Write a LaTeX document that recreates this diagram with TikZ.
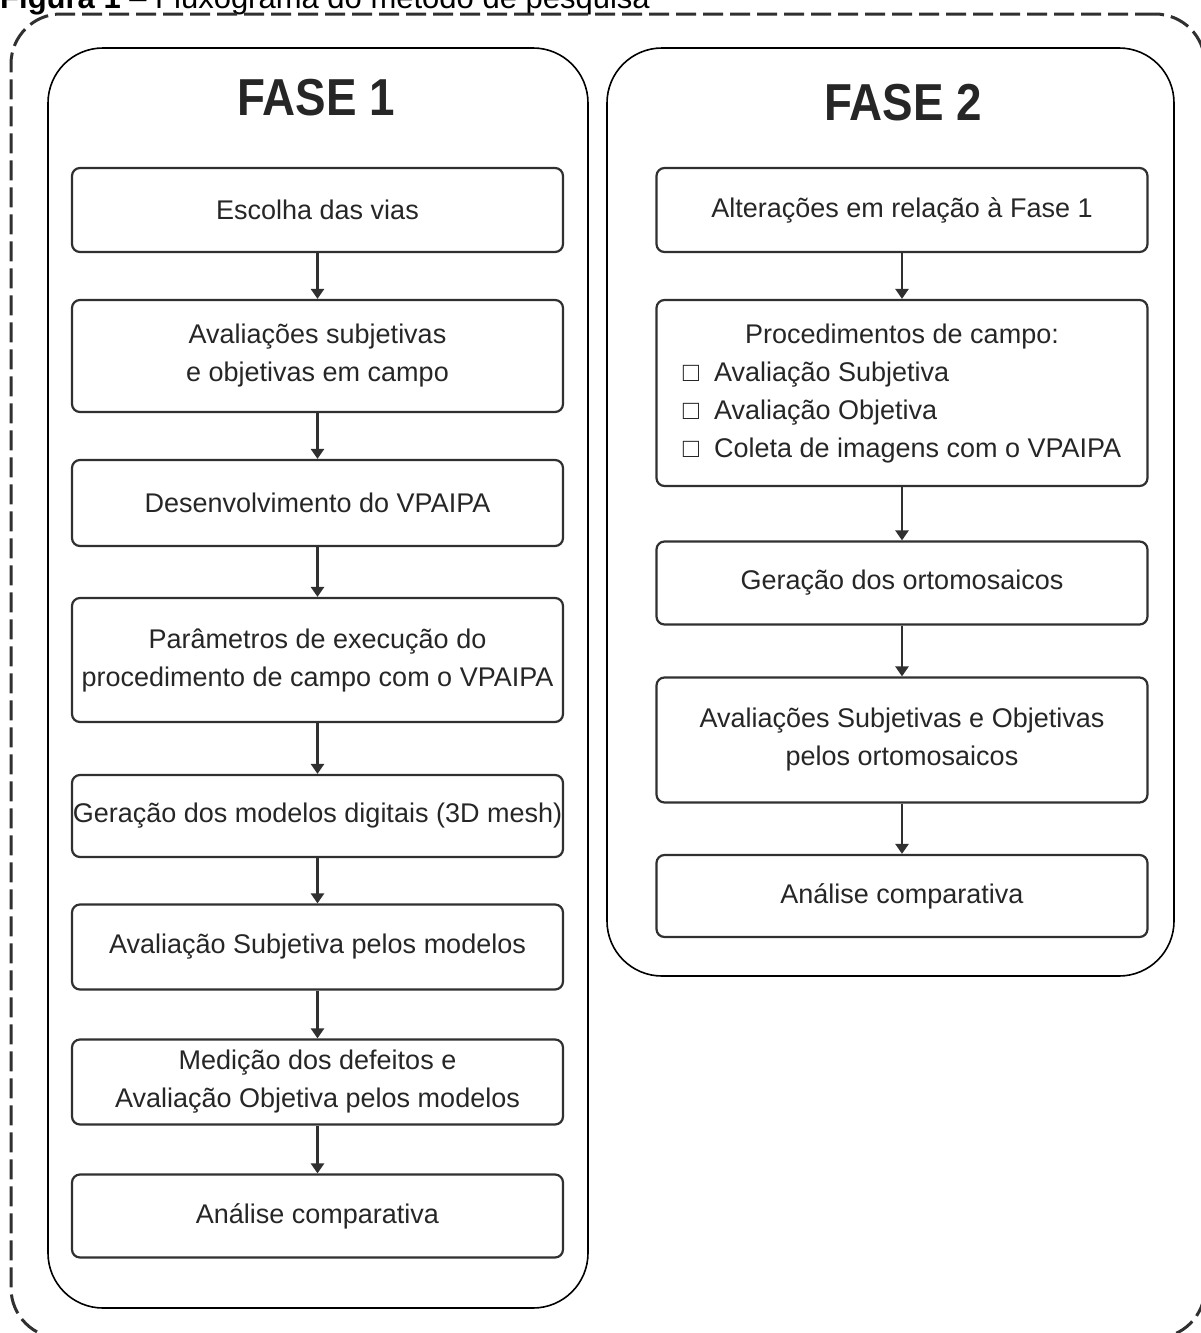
\documentclass[tikz,border=0pt]{standalone}
\usepackage{fontspec}
\setmainfont{Liberation Sans}
\usepackage{graphicx}
\usetikzlibrary{arrows.meta}
\definecolor{ink}{HTML}{262626}
\definecolor{edge}{HTML}{303030}
\tikzset{
  framebox/.style={draw=edge, line width=3pt, dash pattern=on 20pt off 7pt, rounded corners=50pt, inner sep=0pt},
  phasebox/.style={draw=black, line width=1.6pt, rounded corners=55pt, inner sep=0pt},
  stepbox/.style={draw=edge, line width=2.2pt, rounded corners=8pt, minimum width=491pt, inner sep=0pt, align=center,
     text=ink, font=\fontsize{27}{38}\selectfont},
  phasetitle/.style={text=ink, font=\fontsize{52}{56}\selectfont\bfseries, inner sep=0pt},
  arr/.style={draw=edge, line width=2.6pt, -{Triangle[width=13pt,length=10pt]}},
}
\begin{document}
\begin{tikzpicture}[x=1pt,y=-1pt]
\useasboundingbox (0,0) rectangle (1201,1333);
% caption (cut at top, as in the reference)
\node[anchor=base west, inner sep=0pt, text=black, font=\fontsize{31}{34}\selectfont] (cap) at (0,9)
  {\textbf{Figura 1} -- Fluxograma do método de pesquisa};
% dashed frame
\node[framebox, minimum width=1194pt, minimum height=1324pt] (frame) at (608,676) {};
% phase containers
\node[phasebox, minimum width=540pt, minimum height=1260pt] (f1) at (318,678) {};
\node[phasebox, minimum width=567pt, minimum height=928pt] (f2) at (890.5,512) {};
\node[phasetitle] (t1) at (316,98) {\scalebox{0.88}[1]{FASE 1}};
\node[phasetitle] (t2) at (903,103) {\scalebox{0.88}[1]{FASE 2}};
% Fase 1 steps
\node[stepbox, minimum height=84pt] (a1) at (317.5,210) {Escolha das vias};
\node[stepbox, minimum height=112pt] (a2) at (317.5,356) {Avaliações subjetivas\\e objetivas em campo};
\node[stepbox, minimum height=86pt] (a3) at (317.5,503) {Desenvolvimento do VPAIPA};
\node[stepbox, minimum height=124pt] (a4) at (317.5,660) {Parâmetros de execução do\\procedimento de campo com o VPAIPA};
\node[stepbox, minimum height=82pt] (a5) at (317.5,816) {Geração dos modelos digitais (3D mesh)};
\node[stepbox, minimum height=85pt] (a6) at (317.5,947) {Avaliação Subjetiva pelos modelos};
\node[stepbox, minimum height=85pt] (a7) at (317.5,1082) {Medição dos defeitos e\\Avaliação Objetiva pelos modelos};
\node[stepbox, minimum height=83pt] (a8) at (317.5,1216) {Análise comparativa};
% Fase 2 steps
\node[stepbox, minimum height=84pt] (b1) at (902,210) {Alterações em relação à Fase 1};
\node[stepbox, minimum height=186pt] (b2) at (902,393) {%
  \begin{tabular}{@{}l@{}}\multicolumn{1}{@{}c@{}}{Procedimentos de campo:}\\
  □\ \ Avaliação Subjetiva\\
  □\ \ Avaliação Objetiva\\
  □\ \ Coleta de imagens com o VPAIPA\end{tabular}};
\node[stepbox, minimum height=83pt] (b3) at (902,583) {Geração dos ortomosaicos};
\node[stepbox, minimum height=125pt] (b4) at (902,740) {Avaliações Subjetivas e Objetivas\\pelos ortomosaicos};
\node[stepbox, minimum height=82pt] (b5) at (902,896) {Análise comparativa};
% connectors
\draw[arr] (a1) -- (a2);
\draw[arr] (a2) -- (a3);
\draw[arr] (a3) -- (a4);
\draw[arr] (a4) -- (a5);
\draw[arr] (a5) -- (a6);
\draw[arr] (a6) -- (a7);
\draw[arr] (a7) -- (a8);
\draw[arr] (b1) -- (b2);
\draw[arr] (b2) -- (b3);
\draw[arr] (b3) -- (b4);
\draw[arr] (b4) -- (b5);
\end{tikzpicture}
\end{document}
